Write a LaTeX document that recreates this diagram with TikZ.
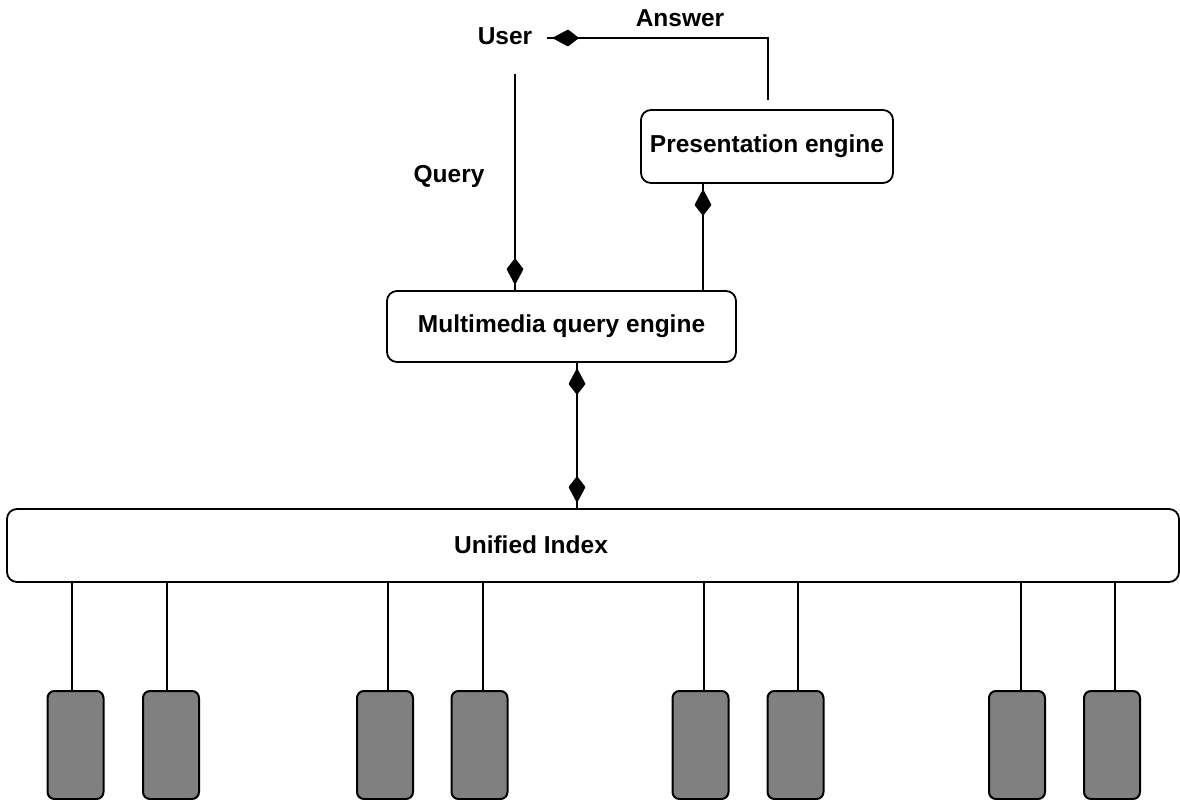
\documentclass[tikz,border=0pt]{standalone}
\usepackage{fontspec}
\setmainfont{Liberation Sans}
\usetikzlibrary{arrows.meta,calc}
\definecolor{diskgray}{RGB}{128,128,128}
\begin{document}
\begin{tikzpicture}[x=1pt,y=-1pt,
  every node/.style={font=\fontsize{24.5}{28}\selectfont\bfseries},
  lbl/.style={inner sep=0pt},
  engine/.style={draw, line width=1.8pt, rounded corners=10pt, inner sep=0pt},
  disk/.style={draw, line width=2pt, fill=diskgray, rounded corners=7pt,
    minimum width=56pt, minimum height=108pt, inner sep=0pt, anchor=north},
  wire/.style={line width=1.7pt},
  tipshape/.tip={Kite[length=27pt,width=17pt,inset=11pt,round]},
  blob/.style={line width=1.7pt, shorten >=6pt, -tipshape},
  blobs/.style={line width=1.7pt, shorten >=6pt, shorten <=6pt, tipshape-tipshape}
]
\useasboundingbox (0,0) rectangle (1180,800);

% labels
\node[lbl] (user)   at (505,36)  {User};
\node[lbl] (answer) at (680,18)  {Answer};
\node[lbl] (query)  at (449,176) {Query};

% engines
\node[engine, minimum width=252pt, minimum height=73pt] (pe)  at (767,146.5) {Presentation engine};
\node[engine, minimum width=349pt, minimum height=71pt] (mqe) at (561.5,326.5) {Multimedia query engine};
\node[engine, minimum width=1172pt, minimum height=73pt] (ui) at (593,545.5) {};
\node[lbl] (uitext) at (531,545) {Unified Index};

% helper coordinates for the vertical connectors
\coordinate (qtop) at (515,74);
\coordinate (px)   at (703,0);
\coordinate (dx)   at (577,0);
\coordinate (uend) at (547,38);

% query: user -> multimedia query engine
\draw[wire] (qtop) -- (qtop |- mqe.north);
\draw[blob] (qtop) -- (qtop |- mqe.north);

% multimedia query engine -> presentation engine
\draw[wire] (mqe.north -| px) -- (pe.south -| px);
\draw[blob] (mqe.north -| px) -- (pe.south -| px);

% answer: presentation engine -> user
\draw[wire] ([xshift=1pt,yshift=9pt]pe.north) |- (uend);
\draw[blob] ([xshift=1pt,yshift=9pt]pe.north) |- (uend);

% multimedia query engine <-> unified index
\draw[wire]  (mqe.south -| dx) -- (ui.north -| dx);
\draw[blobs] (mqe.south -| dx) -- (ui.north -| dx);

% storage units below the unified index
\foreach \i/\bx/\lx in {1/75.5/72, 2/171/166.7, 3/385/388, 4/479.5/483,
                        5/700.5/704, 6/795.5/798, 7/1017/1021, 8/1112/1115} {
  \node[disk] (d\i) at (\bx,690) {};
  \coordinate (l\i) at (\lx,0);
  \draw[wire] (ui.south -| l\i) -- (d\i.north -| l\i);
}
\end{tikzpicture}
\end{document}
